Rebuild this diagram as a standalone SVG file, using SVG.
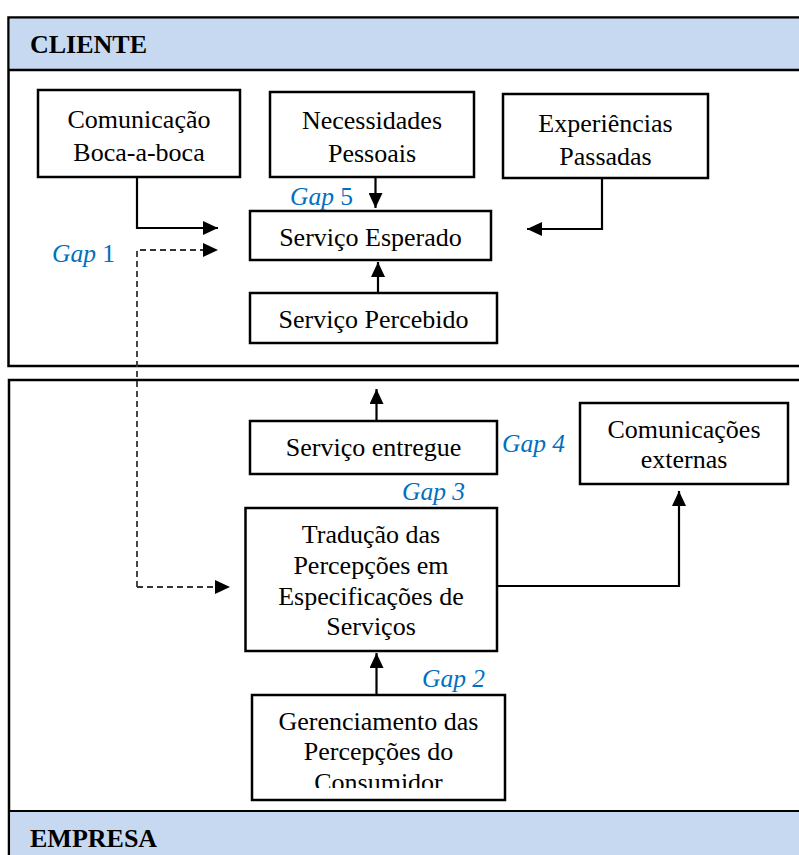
<svg xmlns="http://www.w3.org/2000/svg" width="799" height="855" viewBox="0 0 799 855">
  <style>
    .panel { fill: #ffffff; stroke: #000; stroke-width: 2.5; }
    .band { fill: #c6d9f0; }
    .box { fill: #ffffff; stroke: #000; stroke-width: 2.5; }
    .t { font-family: "Liberation Serif", "Times New Roman", serif; font-size: 26px; fill: #000; text-anchor: middle; }
    .title { font-family: "Liberation Serif", "Times New Roman", serif; font-size: 26px; font-weight: bold; fill: #000; }
    .gap { font-family: "Liberation Serif", "Times New Roman", serif; font-size: 25.5px; font-style: italic; fill: #0070c0; }
    .up { font-style: normal; }
    .line { fill: none; stroke: #000; stroke-width: 2.2; }
    .dash { fill: none; stroke: #333; stroke-width: 1.8; stroke-dasharray: 6 4; }
  </style>
  <defs>
    <marker id="arrow" markerUnits="userSpaceOnUse" markerWidth="16" markerHeight="14" refX="15" refY="7" orient="auto">
      <path d="M0,0 L15,7 L0,14 Z" fill="#000"/>
    </marker>
    <clipPath id="clip-gerenciamento">
      <rect x="252" y="695" width="253" height="93"/>
    </clipPath>
  </defs>

  <rect width="799" height="855" fill="#ffffff"/>

  <!-- CLIENTE panel -->
  <g id="cliente">
    <rect class="panel" x="8.5" y="17.5" width="800" height="348.5"/>
    <rect class="band" x="9.75" y="18.75" width="800" height="51"/>
    <line x1="8.5" y1="70" x2="805" y2="70" stroke="#000" stroke-width="2.5"/>
    <text class="title" x="30" y="53">CLIENTE</text>
  </g>

  <!-- EMPRESA panel -->
  <g id="empresa">
    <rect class="panel" x="9" y="380" width="800" height="490"/>
    <rect class="band" x="10.25" y="812" width="800" height="50"/>
    <line x1="9" y1="811" x2="805" y2="811" stroke="#000" stroke-width="2"/>
    <text class="title" x="30" y="847">EMPRESA</text>
  </g>

  <g id="comunicacao-boca">
    <rect class="box" x="38" y="90" width="202" height="87"/>
    <text class="t" x="139" y="128">Comunicação</text>
    <text class="t" x="139" y="161">Boca-a-boca</text>
  </g>

  <g id="necessidades">
    <rect class="box" x="270" y="92" width="204" height="85"/>
    <text class="t" x="372" y="129">Necessidades</text>
    <text class="t" x="372" y="162">Pessoais</text>
  </g>

  <g id="experiencias">
    <rect class="box" x="503" y="94" width="205" height="84"/>
    <text class="t" x="605.5" y="132">Experiências</text>
    <text class="t" x="605.5" y="165">Passadas</text>
  </g>

  <g id="servico-esperado">
    <rect class="box" x="250" y="211" width="241" height="49"/>
    <text class="t" x="370.5" y="246">Serviço Esperado</text>
  </g>

  <g id="servico-percebido">
    <rect class="box" x="250" y="293" width="247" height="50"/>
    <text class="t" x="373.5" y="328">Serviço Percebido</text>
  </g>

  <g id="servico-entregue">
    <rect class="box" x="250" y="421" width="247" height="53"/>
    <text class="t" x="373.5" y="456">Serviço entregue</text>
  </g>

  <g id="comunicacoes-externas">
    <rect class="box" x="580" y="403" width="208" height="81"/>
    <text class="t" x="684" y="438">Comunicações</text>
    <text class="t" x="684" y="468">externas</text>
  </g>

  <g id="traducao">
    <rect class="box" x="245.5" y="508" width="251.5" height="143"/>
    <text class="t" x="371" y="543">Tradução das</text>
    <text class="t" x="371" y="574">Percepções em</text>
    <text class="t" x="371" y="605">Especificações de</text>
    <text class="t" x="371" y="635">Serviços</text>
  </g>

  <g id="gerenciamento">
    <rect class="box" x="252" y="695" width="253" height="105"/>
    <g clip-path="url(#clip-gerenciamento)">
      <text class="t" x="378.5" y="730">Gerenciamento das</text>
      <text class="t" x="378.5" y="760">Percepções do</text>
      <text class="t" x="378.5" y="791">Consumidor</text>
    </g>
  </g>

  <!-- gap labels -->
  <g id="gap-labels">
    <text class="gap" x="290" y="205">Gap <tspan class="up">5</tspan></text>
    <text class="gap" x="52" y="262">Gap <tspan class="up">1</tspan></text>
    <text class="gap" x="502" y="452">Gap 4</text>
    <text class="gap" x="402" y="500">Gap 3</text>
    <text class="gap" x="422" y="687">Gap 2</text>
  </g>

  <!-- connectors -->
  <g id="connectors">
    <polyline class="line" points="137,177 137,228 218,228" marker-end="url(#arrow)"/>
    <line class="line" x1="375.5" y1="177" x2="375.5" y2="208" marker-end="url(#arrow)"/>
    <polyline class="line" points="602,178 602,229 527,229" marker-end="url(#arrow)"/>
    <line class="line" x1="378" y1="293" x2="378" y2="262" marker-end="url(#arrow)"/>
    <line class="line" x1="376.5" y1="421" x2="376.5" y2="389" marker-end="url(#arrow)"/>
    <polyline class="line" points="497,586 679,586 679,491" marker-end="url(#arrow)"/>
    <line class="line" x1="376.5" y1="695" x2="376.5" y2="653" marker-end="url(#arrow)"/>
    <!-- Gap 1: dashed link between the two panels -->
    <polyline class="dash" points="137,587 137,250 204,250"/>
    <line class="dash" x1="137" y1="587" x2="216" y2="587"/>
    <path d="M203,243 L218,250 L203,257 Z" fill="#000"/>
    <path d="M215,580 L230,587 L215,594 Z" fill="#000"/>
  </g>
</svg>
